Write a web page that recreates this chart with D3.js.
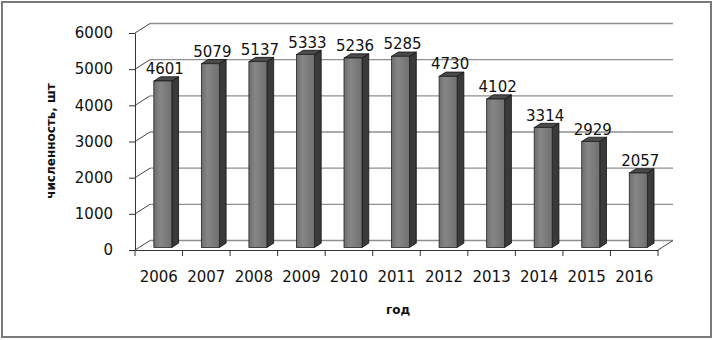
<!DOCTYPE html>
<html>
<head>
<meta charset="utf-8">
<script src="https://cdn.jsdelivr.net/npm/d3@7"></script>
<style>
  body { margin: 0; background: #fff; }
  text { font-family: "DejaVu Sans", Verdana, sans-serif; fill: #111; }
</style>
</head>
<body>
<div id="chart"></div>
<script>
// данные
const years = ["2006", "2007", "2008", "2009", "2010", "2011", "2012", "2013", "2014", "2015", "2016"];
const counts = [4601, 5079, 5137, 5333, 5236, 5285, 4730, 4102, 3314, 2929, 2057];
const yTicks = [0, 1000, 2000, 3000, 4000, 5000, 6000];

const W = 713, H = 340;
const svg = d3.select("#chart").append("svg")
    .attr("width", W)
    .attr("height", H);

// рамка
svg.append("rect")
    .attr("x", 2).attr("y", 2)
    .attr("width", W - 4).attr("height", H - 5)
    .attr("fill", "#fff")
    .attr("stroke", "#7a7a7a")
    .attr("stroke-width", 2);

// шкалы (передняя плоскость)
const x = d3.scaleBand().domain(years).range([135, 658]).padding(0);
const y = d3.scaleLinear().domain([0, 6000]).range([250, 33]);

// глубина 3D
const dep = { dx: 15, dy: -9.5 };
const f1 = 0.27, f2 = 0.72; // передняя и задняя грань столбца
const barW = 18;

const grid = svg.append("g");

// линии сетки на задней стенке + диагонали на боковой
yTicks.forEach(t => {
    grid.append("line")
        .attr("x1", x.range()[0] + dep.dx).attr("x2", x.range()[1] + dep.dx)
        .attr("y1", y(t) + dep.dy).attr("y2", y(t) + dep.dy)
        .attr("stroke", "#8f8f8f").attr("stroke-width", 1.4);
    grid.append("line")
        .attr("x1", x.range()[0]).attr("x2", x.range()[0] + dep.dx)
        .attr("y1", y(t)).attr("y2", y(t) + dep.dy)
        .attr("stroke", "#444").attr("stroke-width", 1);
});

// пол: правая диагональ
grid.append("line")
    .attr("x1", x.range()[1]).attr("x2", x.range()[1] + dep.dx)
    .attr("y1", y(0)).attr("y2", y(0) + dep.dy)
    .attr("stroke", "#444").attr("stroke-width", 1);

// оси
const yAxis = svg.append("g")
    .attr("transform", `translate(${x.range()[0]},0)`)
    .call(d3.axisLeft(y).tickValues(yTicks).tickFormat(d3.format("d"))
        .tickSize(6).tickSizeOuter(0).tickPadding(16));
yAxis.select(".domain").attr("stroke", "#333");
yAxis.selectAll(".tick line").attr("stroke", "#333");
yAxis.selectAll("text").style("font-size", "15px").attr("fill", "#111");

const xAxis = svg.append("g")
    .attr("transform", `translate(0,${y(0)})`)
    .call(d3.axisBottom(x).tickSize(0).tickPadding(21));
xAxis.select(".domain").attr("stroke", "#333");
xAxis.selectAll("text").style("font-size", "15px").attr("fill", "#111");

// деления между категориями
svg.append("g").selectAll("line")
    .data(years.concat(["end"]))
    .join("line")
    .attr("x1", (d, i) => x.range()[0] + i * x.step())
    .attr("x2", (d, i) => x.range()[0] + i * x.step())
    .attr("y1", y(0)).attr("y2", y(0) + 6)
    .attr("stroke", "#333");

// градиент передней грани
const defs = svg.append("defs");
const grad = defs.append("linearGradient").attr("id", "front");
grad.append("stop").attr("offset", "0%").attr("stop-color", "#6e6e6e");
grad.append("stop").attr("offset", "35%").attr("stop-color", "#868686");
grad.append("stop").attr("offset", "100%").attr("stop-color", "#707070");

// столбцы
const sd = { dx: (f2 - f1) * dep.dx, dy: (f2 - f1) * dep.dy };
const bars = svg.append("g").selectAll("g")
    .data(years.map((yr, i) => ({ yr, v: counts[i] })))
    .join("g");

bars.each(function(d) {
    const g = d3.select(this);
    const x0 = x(d.yr) + x.bandwidth() / 2 - barW / 2 + f1 * dep.dx;
    const x1 = x0 + barW;
    const yt = y(d.v) + f1 * dep.dy;
    const yb = y(0) + f1 * dep.dy;
    // боковая грань
    g.append("polygon")
        .attr("points", [[x1, yt], [x1 + sd.dx, yt + sd.dy], [x1 + sd.dx, yb + sd.dy], [x1, yb]].join(" "))
        .attr("fill", "#3a3a3a").attr("stroke", "#111").attr("stroke-width", 0.8);
    // верхняя грань
    g.append("polygon")
        .attr("points", [[x0, yt], [x1, yt], [x1 + sd.dx, yt + sd.dy], [x0 + sd.dx, yt + sd.dy]].join(" "))
        .attr("fill", "#4a4a4a").attr("stroke", "#111").attr("stroke-width", 0.8);
    // передняя грань
    g.append("rect")
        .attr("x", x0).attr("y", yt)
        .attr("width", barW).attr("height", yb - yt)
        .attr("fill", "url(#front)").attr("stroke", "#222").attr("stroke-width", 0.8);
    // подпись значения
    g.append("text")
        .attr("x", x0 + barW / 2 + 2)
        .attr("y", yt - 7)
        .attr("text-anchor", "middle")
        .style("font-size", "15px")
        .text(d.v);
});

// подписи осей
svg.append("text")
    .attr("transform", "translate(55,141) rotate(-90)")
    .attr("text-anchor", "middle")
    .style("font-size", "12px")
    .style("font-weight", "bold")
    .text("численность, шт");

svg.append("text")
    .attr("x", 398).attr("y", 314)
    .attr("text-anchor", "middle")
    .style("font-size", "12px")
    .style("font-weight", "bold")
    .text("год");
</script>
</body>
</html>
